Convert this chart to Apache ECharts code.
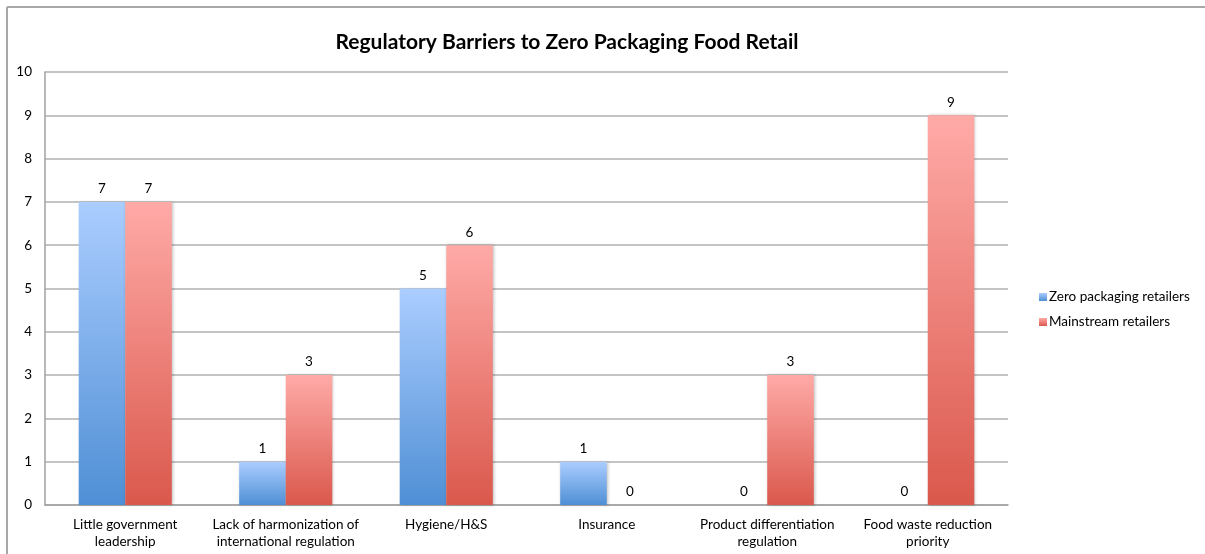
<!DOCTYPE html>
<html>
<head>
<meta charset="utf-8">
<script src="https://cdn.jsdelivr.net/npm/echarts@6/dist/echarts.min.js"></script>
<style>
  html, body { margin: 0; padding: 0; background: #fff; }
  #chart { width: 1205px; height: 554px; }
</style>
</head>
<body>
<div id="chart"></div>
<script>
// data
const categories = [
  "Little government\nleadership",
  "Lack of harmonization of\ninternational regulation",
  "Hygiene/H&S",
  "Insurance",
  "Product differentiation\nregulation",
  "Food waste reduction\npriority"
];
const zeroPackaging = [7, 1, 5, 1, 0, 0];
const mainstream = [7, 3, 6, 0, 3, 9];
const yTicks = { min: 0, max: 10, interval: 1 };

const font = "Lato, 'Open Sans', sans-serif";

function grad(top, bottom) {
  return new echarts.graphic.LinearGradient(0, 0, 0, 1, [
    { offset: 0, color: top },
    { offset: 1, color: bottom }
  ]);
}

const chart = echarts.init(document.getElementById("chart"), null, { renderer: "canvas" });

const barStyle = {
  shadowBlur: 3,
  shadowColor: "rgba(0,0,0,0.25)",
  shadowOffsetX: 1
};

chart.setOption({
  animation: false,
  textStyle: { fontFamily: font },
  title: {
    text: "Regulatory Barriers to Zero Packaging Food Retail",
    left: 562,
    top: 27,
    textAlign: "center",
    textStyle: { fontFamily: font, fontSize: 21, fontWeight: "bold", color: "#000" }
  },
  graphic: [
    { type: "line", shape: { x1: 7, y1: 7, x2: 1205, y2: 7 }, style: { stroke: "#a8a8a8", lineWidth: 2 } },
    { type: "line", shape: { x1: 7, y1: 7, x2: 7, y2: 554 }, style: { stroke: "#a8a8a8", lineWidth: 2 } }
  ],
  legend: {
    orient: "vertical",
    left: 1034,
    top: 285,
    itemWidth: 8,
    itemHeight: 8,
    itemGap: 11,
    icon: "rect",
    textStyle: { fontFamily: font, fontSize: 13.5, color: "#000", padding: [0, 0, 0, -3] },
    data: ["Zero packaging retailers", "Mainstream retailers"]
  },
  grid: { left: 45, right: 197, top: 72, bottom: 49, containLabel: false },
  xAxis: {
    type: "category",
    data: categories,
    axisLine: { lineStyle: { color: "#a0a0a0", width: 1.5 } },
    axisTick: { show: false },
    axisLabel: {
      interval: 0,
      margin: 11,
      fontFamily: font,
      fontSize: 13.5,
      color: "#000",
      lineHeight: 17
    }
  },
  yAxis: {
    type: "value",
    min: yTicks.min,
    max: yTicks.max,
    interval: yTicks.interval,
    axisLine: { show: true, lineStyle: { color: "#a0a0a0", width: 1.5 } },
    axisTick: { show: false },
    axisLabel: { margin: 13, fontFamily: font, fontSize: 13.5, color: "#000" },
    splitLine: { lineStyle: { color: "#b0b0b0", width: 1.5 } }
  },
  series: [
    {
      name: "Zero packaging retailers",
      type: "bar",
      data: zeroPackaging,
      barGap: "0%",
      barCategoryGap: "42%",
      itemStyle: Object.assign({ color: grad("#abcdff", "#4f8fd5") }, barStyle),
      label: { show: true, position: "top", distance: 6, fontFamily: font, fontSize: 13.5, color: "#000" }
    },
    {
      name: "Mainstream retailers",
      type: "bar",
      data: mainstream,
      itemStyle: Object.assign({ color: grad("#ffaaa7", "#da584c") }, barStyle),
      label: { show: true, position: "top", distance: 6, fontFamily: font, fontSize: 13.5, color: "#000" }
    }
  ]
});
</script>
</body>
</html>
